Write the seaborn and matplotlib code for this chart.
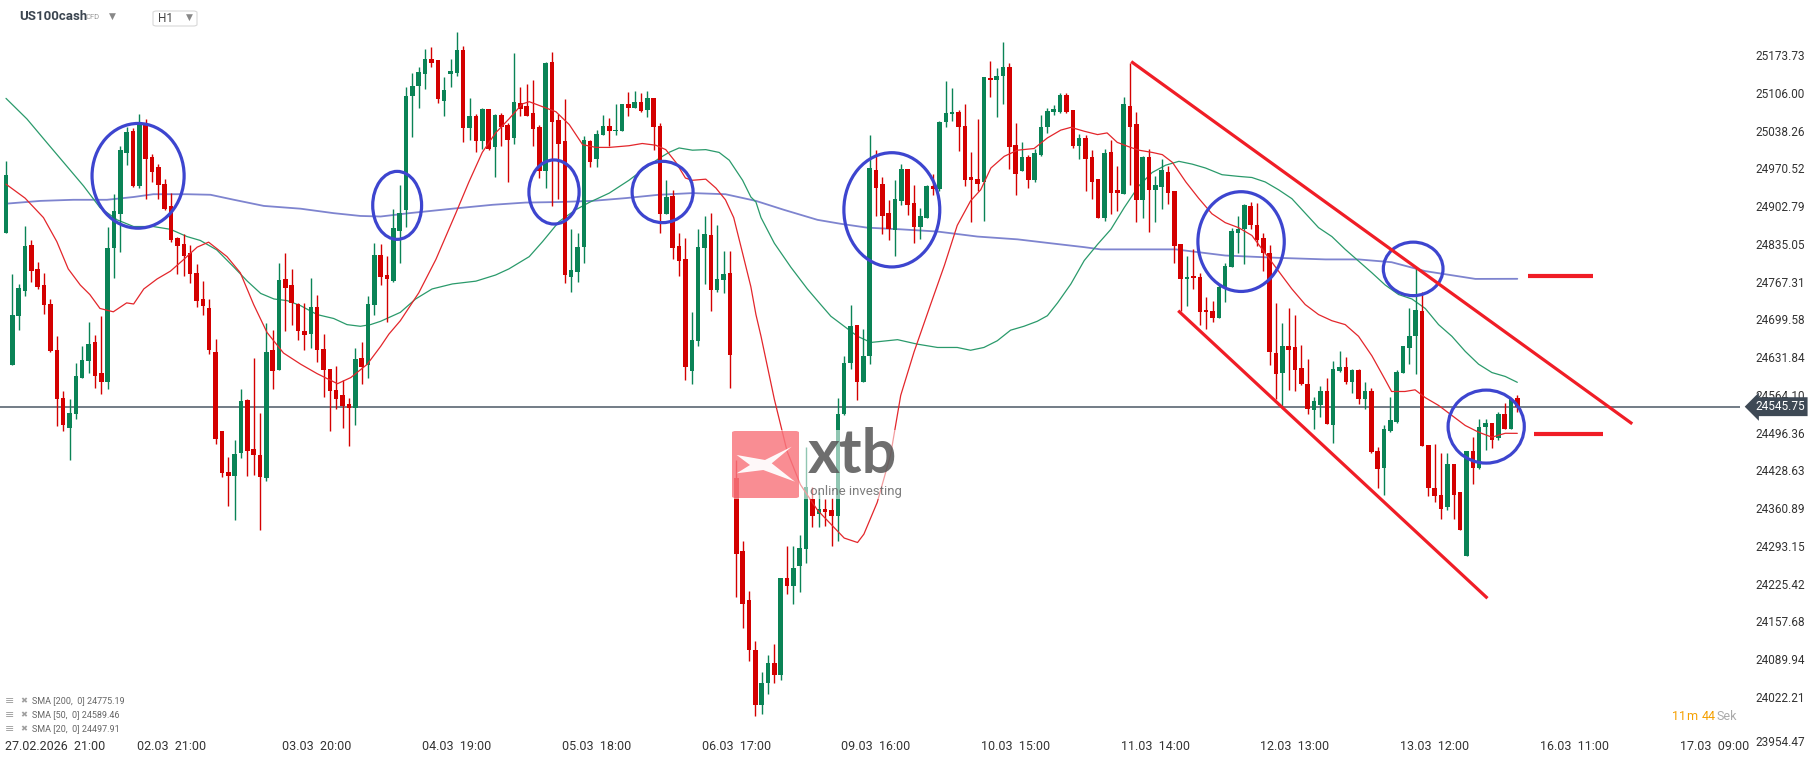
import numpy as np
import pandas as pd
import matplotlib
matplotlib.use('Agg')
import matplotlib.pyplot as plt
import matplotlib.transforms as mtrans
from matplotlib.patches import Ellipse, FancyBboxPatch, Polygon, Rectangle
import seaborn as sns

# ---- hourly candles US100cash ----
opens = [24857, 24621, 24709, 24754, 24835, 24793, 24764, 24730, 24647, 24561,
         24508, 24532, 24598, 24627, 24662, 24606, 24590, 24830, 24892, 25001,
         25040, 24942, 25054, 24994, 24976, 24945, 24906, 24848, 24837, 24822,
         24786, 24739, 24722, 24644, 24502, 24429, 24422, 24463, 24557, 24470,
         24459, 24417, 24647, 24612, 24775, 24764, 24730, 24682, 24676, 24725,
         24649, 24613, 24575, 24566, 24551, 24543, 24633, 24621, 24729, 24818,
         24782, 24771, 24861, 24899, 25103, 25121, 25142, 25170, 25167, 25095,
         25142, 25144, 25186, 25045, 25067, 25023, 25080, 25011, 25069, 25051,
         25027, 25091, 25085, 25072, 25048, 24968, 25165, 25060, 25022, 24778,
         24788, 24832, 25022, 24991, 25034, 25050, 25040, 25041, 25089, 25081,
         25092, 25078, 25100, 25050, 24892, 24923, 24834, 24811, 24610, 24663,
         24830, 24853, 24756, 24773, 24786, 24418, 24287, 24198, 24110, 24010,
         24050, 24085, 24065, 24239, 24224, 24259, 24291, 24380, 24354, 24363,
         24361, 24349, 24532, 24624, 24693, 24590, 24637, 24971, 24945, 24893,
         24862, 24915, 24972, 24911, 24869, 24885, 24942, 24936, 25057, 25071,
         25075, 25050, 24957, 24954, 24949, 25136, 25132, 25139, 25155, 25015,
         24969, 24994, 24952, 24998, 25047, 25075, 25075, 25105, 25078, 25013,
         25027, 24994, 24954, 24885, 25003, 24935, 24927, 25086, 25053, 24917,
         24993, 24935, 24940, 24967, 24932, 24838, 24774, 24780, 24778, 24719,
         24717, 24704, 24760, 24796, 24858, 24865, 24906, 24871, 24848, 24822,
         24642, 24607, 24655, 24652, 24615, 24587, 24539, 24549, 24574, 24512,
         24610, 24617, 24590, 24612, 24560, 24573, 24466, 24435, 24502, 24519,
         24606, 24651, 24672, 24717, 24477, 24400, 24388, 24366, 24442, 24393,
         24277, 24466, 24436, 24510, 24516, 24489, 24533, 24505, 24561]
highs = [24986, 24784, 24766, 24870, 24845, 24805, 24786, 24739, 24672, 24573,
         24560, 24625, 24655, 24698, 24674, 24709, 24868, 24927, 25014, 25048,
         25045, 25071, 25062, 25000, 24981, 24954, 24930, 24851, 24855, 24835,
         24801, 24771, 24739, 24668, 24502, 24455, 24486, 24577, 24560, 24633,
         24535, 24696, 24683, 24803, 24821, 24793, 24732, 24732, 24777, 24747,
         24676, 24613, 24618, 24593, 24562, 24651, 24661, 24744, 24839, 24838,
         24817, 24901, 24943, 25119, 25144, 25155, 25188, 25191, 25167, 25137,
         25170, 25218, 25193, 25100, 25071, 25082, 25080, 25071, 25072, 25054,
         25181, 25119, 25125, 25132, 25051, 25164, 25183, 25071, 25098, 24864,
         24857, 25032, 25025, 25042, 25069, 25064, 25089, 25089, 25111, 25113,
         25109, 25112, 25100, 25055, 24952, 24935, 24857, 24849, 24715, 24864,
         24888, 24893, 24872, 24825, 24825, 24450, 24305, 24215, 24125, 24070,
         24100, 24120, 24239, 24296, 24296, 24316, 24473, 24402, 24392, 24380,
         24381, 24562, 24637, 24729, 24693, 24686, 25033, 25006, 24957, 24916,
         24952, 24981, 24972, 24944, 24903, 24943, 24964, 25059, 25130, 25118,
         25078, 25089, 25003, 25062, 25137, 25166, 25153, 25200, 25162, 25054,
         25020, 24997, 25008, 25069, 25082, 25087, 25108, 25108, 25078, 25035,
         25034, 25006, 24954, 25008, 25024, 24977, 25101, 25163, 25074, 24995,
         25008, 24959, 24990, 24977, 24933, 24838, 24817, 24828, 24786, 24743,
         24736, 24766, 24803, 24867, 24888, 24909, 24913, 24912, 24857, 24835,
         24732, 24696, 24722, 24711, 24656, 24631, 24564, 24583, 24598, 24628,
         24645, 24635, 24614, 24614, 24590, 24580, 24473, 24512, 24564, 24612,
         24655, 24722, 24796, 24752, 24477, 24478, 24463, 24462, 24442, 24393,
         24466, 24492, 24523, 24523, 24516, 24537, 24553, 24562, 24566]
lows = [24857, 24621, 24684, 24745, 24769, 24757, 24712, 24644, 24511, 24502,
        24450, 24524, 24598, 24607, 24580, 24568, 24578, 24776, 24824, 24980,
        24940, 24939, 24919, 24949, 24919, 24899, 24842, 24784, 24780, 24767,
        24725, 24711, 24641, 24479, 24419, 24367, 24343, 24454, 24422, 24424,
        24324, 24412, 24578, 24612, 24682, 24693, 24666, 24647, 24651, 24626,
        24564, 24502, 24541, 24507, 24475, 24512, 24587, 24598, 24711, 24764,
        24697, 24770, 24803, 24869, 25029, 25082, 25116, 25156, 25090, 25068,
        25119, 25140, 25021, 25025, 25003, 25009, 25006, 24957, 25014, 24949,
        25018, 25067, 25067, 25014, 24956, 24939, 24906, 24919, 24767, 24752,
        24770, 24804, 24976, 24975, 25034, 25013, 25034, 25041, 25068, 25081,
        25075, 25065, 25007, 24857, 24892, 24810, 24780, 24593, 24587, 24654,
        24766, 24718, 24752, 24749, 24580, 24204, 24149, 24090, 23990, 23995,
        24030, 24050, 24055, 24209, 24191, 24214, 24266, 24329, 24330, 24331,
        24295, 24305, 24530, 24614, 24557, 24590, 24622, 24888, 24855, 24844,
        24817, 24908, 24889, 24839, 24846, 24885, 24925, 24933, 25047, 25059,
        25004, 24942, 24878, 24932, 24879, 25101, 25065, 25088, 24972, 24925,
        24969, 24938, 24949, 24996, 25037, 25069, 25072, 25072, 25010, 24991,
        24933, 24919, 24885, 24879, 24892, 24896, 24927, 24943, 24878, 24885,
        24860, 24878, 24901, 24910, 24804, 24717, 24727, 24757, 24692, 24686,
        24698, 24704, 24734, 24796, 24821, 24801, 24864, 24834, 24790, 24620,
        24560, 24547, 24576, 24573, 24585, 24533, 24505, 24527, 24515, 24480,
        24608, 24587, 24570, 24551, 24541, 24463, 24399, 24388, 24500, 24516,
        24606, 24622, 24605, 24475, 24385, 24375, 24344, 24360, 24344, 24324,
        24277, 24407, 24434, 24468, 24472, 24486, 24505, 24505, 24536]
closes = [24962, 24711, 24759, 24834, 24790, 24761, 24729, 24646, 24559, 24512,
          24534, 24601, 24629, 24659, 24600, 24590, 24830, 24896, 25006, 25039,
          24942, 25054, 24991, 24966, 24943, 24901, 24844, 24834, 24817, 24783,
          24736, 24726, 24647, 24488, 24427, 24422, 24461, 24556, 24467, 24459,
          24419, 24644, 24610, 24773, 24759, 24732, 24682, 24675, 24725, 24648,
          24611, 24573, 24560, 24547, 24544, 24632, 24617, 24730, 24818, 24778,
          24774, 24866, 24894, 25103, 25121, 25146, 25170, 25163, 25098, 25114,
          25148, 25186, 25045, 25067, 25023, 25080, 25009, 25069, 25047, 25025,
          25092, 25080, 25068, 25044, 24969, 25163, 25057, 25018, 24782, 24791,
          24833, 25025, 24984, 25035, 25050, 25040, 25043, 25089, 25081, 25092,
          25076, 25100, 25047, 24892, 24922, 24830, 24808, 24617, 24666, 24832,
          24855, 24756, 24775, 24784, 24639, 24282, 24192, 24110, 24010, 24050,
          24085, 24065, 24239, 24224, 24256, 24292, 24402, 24349, 24363, 24357,
          24349, 24532, 24624, 24690, 24590, 24637, 24974, 24938, 24888, 24864,
          24918, 24973, 24908, 24869, 24888, 24942, 24936, 25057, 25072, 25075,
          25048, 24953, 24952, 24945, 25137, 25132, 25140, 25156, 25011, 24964,
          24994, 24953, 25001, 25048, 25076, 25080, 25105, 25075, 25013, 25027,
          24990, 24949, 24885, 25001, 24930, 24929, 25088, 25048, 24917, 24994,
          24935, 24943, 24971, 24930, 24834, 24774, 24778, 24776, 24715, 24715,
          24704, 24761, 24798, 24861, 24865, 24908, 24871, 24844, 24821, 24644,
          24605, 24654, 24648, 24611, 24587, 24541, 24556, 24574, 24515, 24614,
          24617, 24590, 24612, 24560, 24574, 24465, 24434, 24505, 24522, 24608,
          24654, 24673, 24719, 24475, 24400, 24385, 24363, 24442, 24387, 24324,
          24466, 24436, 24509, 24517, 24486, 24533, 24505, 24560, 24545.75]

# moving averages, sampled along each line (candle index, value)
sma20_idx = [0, 3.0, 5.9, 8.0, 9.8, 11.7, 13.2, 14.8, 16.9, 19.0, 20.1, 21.7, 23.8, 25.9, 28.0,
             30.1, 31.9, 34.8, 36.9, 39.0, 41.1, 43.7, 46.4, 49.0, 52.2, 54.3, 56.9, 59.0, 60.3,
             62.1, 65.0, 67.7, 70.8, 72.9, 75.0, 77.1, 79.2, 81.3, 82.4, 84.5, 86.6, 88.7, 90.8,
             92.9, 95.0, 98.1, 100.2, 102.3, 103.9, 105.5, 107.0, 108.1, 110.2, 111.8, 113.3,
             114.6, 116.0, 117.3, 118.1, 118.9, 121.0, 123.0, 125.1, 127.8, 129.9, 132.0, 134.1,
             135.1, 137.2, 139.3, 140.9, 143.0, 145.6, 147.8, 149.8, 151.9, 153.5, 155.1, 157.2,
             159.3, 161.9, 164.0, 166.1, 167.7, 169.8, 171.9, 173.4, 175.0, 177.1, 178.4, 180.5,
             182.1, 183.7, 185.8, 187.8, 189.9, 192.0, 194.1, 196.2, 198.3, 200.4, 202.5, 204.6,
             206.7, 208.8, 210.9, 213.0, 215.1, 217.2, 218.2, 220.3, 221.9, 223.5, 225.6, 227.7,
             229.8, 231.9, 234.0, 236.1, 238.0]
sma20_val = [24945, 24920, 24885, 24842, 24793, 24764, 24747, 24722, 24716, 24732, 24730, 24757,
             24775, 24789, 24810, 24832, 24841, 24815, 24786, 24729, 24679, 24642, 24622, 24605,
             24587, 24598, 24622, 24654, 24676, 24700, 24750, 24810, 24892, 24949, 25002, 25037,
             25062, 25089, 25093, 25084, 25075, 25052, 25016, 25011, 25011, 25014, 25018, 25015,
             25007, 24984, 24956, 24952, 24954, 24938, 24917, 24885, 24821, 24761, 24711, 24672,
             24559, 24466, 24406, 24360, 24335, 24310, 24302, 24317, 24374, 24459, 24566, 24644,
             24729, 24800, 24871, 24915, 24935, 24974, 24995, 25006, 25009, 25028, 25042, 25047,
             25040, 25034, 25037, 25020, 25011, 25006, 25002, 24998, 24984, 24949, 24920, 24892,
             24876, 24867, 24853, 24821, 24789, 24757, 24729, 24711, 24700, 24693, 24672, 24637,
             24594, 24573, 24573, 24576, 24562, 24548, 24530, 24512, 24500, 24491, 24498, 24497.91]
sma50_idx = [0, 3.3, 6.4, 9.6, 12.2, 14.8, 17.5, 20.1, 23.2, 25.9, 28.5, 30.6, 33.2, 35.9, 38.0,
             40.1, 42.2, 44.3, 46.4, 49.0, 51.6, 53.7, 55.8, 57.4, 59.0, 62.1, 64.5, 67.1, 70.3,
             74.0, 77.1, 79.2, 82.4, 84.5, 87.1, 89.7, 91.8, 95.0, 98.1, 100.2, 102.8, 104.4,
             106.0, 108.1, 110.2, 112.3, 113.9, 116.0, 117.3, 118.1, 118.9, 121.0, 123.6, 126.2,
             128.3, 129.9, 132.0, 134.1, 136.2, 140.4, 143.5, 146.7, 149.8, 151.9, 154.0, 156.1,
             158.2, 160.3, 162.4, 164.0, 165.6, 167.7, 169.8, 171.9, 174.0, 176.1, 178.4, 180.5,
             182.6, 184.7, 186.8, 188.9, 191.5, 194.1, 196.2, 198.3, 200.4, 202.5, 204.6, 206.7,
             208.8, 210.9, 213.0, 215.1, 217.2, 219.3, 221.4, 223.5, 225.6, 227.7, 229.8, 231.9,
             234.0, 236.1, 238.0]
sma50_val = [25099, 25062, 25020, 24977, 24942, 24903, 24881, 24869, 24869, 24864, 24851, 24844,
             24827, 24796, 24771, 24749, 24739, 24736, 24727, 24711, 24704, 24693, 24690, 24693,
             24699, 24715, 24739, 24757, 24766, 24771, 24782, 24793, 24815, 24842, 24878, 24899,
             24912, 24929, 24952, 24970, 24991, 25002, 25010, 25006, 25007, 25002, 24988, 24952,
             24922, 24913, 24885, 24839, 24796, 24757, 24729, 24708, 24690, 24672, 24661, 24666,
             24658, 24652, 24652, 24647, 24652, 24664, 24683, 24690, 24699, 24709, 24732, 24766,
             24808, 24837, 24864, 24903, 24942, 24966, 24979, 24986, 24981, 24974, 24962, 24959,
             24957, 24949, 24935, 24919, 24893, 24867, 24851, 24828, 24807, 24786, 24764, 24747,
             24739, 24722, 24693, 24672, 24645, 24622, 24607, 24600, 24589.46]
sma200_idx = [0, 5.4, 10.6, 15.9, 20.1, 23.2, 28.5, 32.2, 35.9, 40.6, 46.4, 51.6, 55.8, 59.0,
              63.5, 70.3, 76.6, 81.8, 87.1, 92.3, 97.6, 102.8, 108.1, 113.3, 118.1, 122.5, 127.8,
              131.4, 135.6, 140.9, 146.7, 153.0, 159.3, 164.5, 169.8, 172.4, 177.1, 184.2, 192.0,
              199.9, 207.8, 213.0, 218.2, 223.5, 231.4, 238.0]
sma200_val = [24910, 24915, 24917, 24917, 24922, 24927, 24927, 24926, 24917, 24906, 24901, 24893,
              24888, 24887, 24893, 24901, 24908, 24912, 24913, 24915, 24920, 24926, 24929, 24927,
              24915, 24899, 24881, 24874, 24867, 24864, 24860, 24851, 24846, 24839, 24832, 24828,
              24828, 24828, 24817, 24813, 24810, 24810, 24805, 24789, 24775, 24775.19]

price_ticks = [25173.73, 25106.00, 25038.26, 24970.52, 24902.79, 24835.05, 24767.31, 24699.58,
               24631.84, 24564.10, 24496.36, 24428.63, 24360.89, 24293.15, 24225.42, 24157.68,
               24089.94, 24022.21, 23954.47]
time_labels = ['27.02.2026  21:00', '02.03  21:00', '03.03  20:00', '04.03  19:00', '05.03  18:00',
               '06.03  17:00', '09.03  16:00', '10.03  15:00', '11.03  14:00', '12.03  13:00',
               '13.03  12:00', '16.03  11:00', '17.03  09:00']
time_pos = [0, 26, 49, 71, 93, 115, 137, 159, 181, 203, 225, 247, 269]
legend_rows = ['SMA [200,  0] 24775.19', 'SMA [50,  0] 24589.46', 'SMA [20,  0] 24497.91']

# drawing annotations (candle index, price)
circles = [(20.8, 24960, 14.5, 188), (61.6, 24907, 7.7, 122), (86.3, 24931, 7.9, 115),
           (103.4, 24931, 9.6, 110), (139.5, 24899, 15.1, 205), (194.5, 24842, 13.6, 179),
           (221.6, 24793, 9.4, 96), (233.1, 24510, 12.0, 131)]
channel_top = ([177.2, 256.1], [25165, 24515])
channel_bottom = ([184.6, 233.3], [24718, 24202])
levels = [(239.7, 249.9, 24781), (240.6, 251.5, 24496)]

sns.set_theme(style='white')
plt.rcParams['font.family'] = ['Roboto', 'DejaVu Sans']

df = pd.DataFrame({'open': opens, 'high': highs, 'low': lows, 'close': closes})
df['i'] = np.arange(len(df))
df['up'] = df['close'] >= df['open']

W, H = 1815, 761
fig = plt.figure(figsize=(W / 100, H / 100), dpi=100)
fig.patch.set_facecolor('white')
ax = fig.add_axes([0, 26 / H, 1740 / W, 735 / H])
ax.set_xlim(-0.945, 273.07)
ax.set_ylim(23956.6, 25275.5)
ax.axis('off')

GREEN, RED = '#0a8356', '#d40000'
for up, col in [(True, GREEN), (False, RED)]:
    d = df[df['up'] == up]
    ax.vlines(d['i'], d['low'], d['high'], color=col, lw=1.0, zorder=3)
    body = (d['close'] - d['open']).abs().clip(lower=2.5)
    ax.bar(d['i'], body, bottom=d[['open', 'close']].min(axis=1), width=0.72,
           color=col, linewidth=0, zorder=4)

sns.lineplot(x=sma200_idx, y=sma200_val, ax=ax, color='#7e84cf', lw=1.3, sort=False, zorder=2)
sns.lineplot(x=sma50_idx, y=sma50_val, ax=ax, color='#2a9a6b', lw=0.9, sort=False, zorder=2)
sns.lineplot(x=sma20_idx, y=sma20_val, ax=ax, color='#e3262b', lw=0.9, sort=False, zorder=5)

last = closes[-1]
ax.axhline(last, color='#4b5966', lw=1.1, zorder=2)

for cx, cy, cw, ch in circles:
    ax.add_patch(Ellipse((cx, cy), cw, ch, fill=False, ec='#3d45cf', lw=2.3, zorder=7))
for xs, ys in [channel_top, channel_bottom]:
    ax.plot(xs, ys, color='#f01d26', lw=2.3, zorder=7, solid_capstyle='butt')
for x0, x1, yv in levels:
    ax.plot([x0, x1], [yv, yv], color='#f01d26', lw=3.0, zorder=7, solid_capstyle='butt')

# right price scale
bt = mtrans.blended_transform_factory(ax.transAxes, ax.transData)
for v in price_ticks:
    ax.text(1 + 15 / 1740, v, f'{v:.2f}', transform=bt, ha='left',
            va='top' if v == price_ticks[-1] else 'center', fontsize=8.5, color='#333333',
            clip_on=False, zorder=8)
ax.text(1 + 15 / 1740, last, f'{last:.2f}', transform=bt, ha='left', va='center', fontsize=8.5,
        color='white', clip_on=False, zorder=20,
        bbox=dict(boxstyle='larrow,pad=0.25', fc='#3e4955', ec='none'))

# time axis
tt = mtrans.blended_transform_factory(ax.transData, fig.transFigure)
for pos, lab in zip(time_pos, time_labels):
    ax.text(pos - (0.1 if pos == 0 else 0), 14 / H, lab, transform=tt, ha='left' if pos == 0 else 'center',
            va='center', fontsize=9, color='#333333', clip_on=False)


def fx(px):
    return px / W


def fy(py):
    return 1 - py / H


# header
fig.text(fx(19), fy(17), 'US100cash', fontsize=9.5, fontweight='bold', color='#3b4550', va='center')
fig.text(fx(86), fy(17), 'CFD', fontsize=5.5, color='#9a9a9a', va='center')
fig.text(fx(112), fy(16), '▼', fontsize=6.5, color='#888888', va='center', ha='center',
         family='DejaVu Sans')
fig.add_artist(FancyBboxPatch((fx(153), fy(26)), fx(44), 15 / H,
                              boxstyle='round,pad=0,rounding_size=0.002', fc='white', ec='#d8d8d8',
                              lw=0.8, transform=fig.transFigure))
fig.text(fx(158), fy(19), 'H1', fontsize=8.5, color='#444444', va='center')
fig.text(fx(189), fy(17), '▼', fontsize=6.5, color='#888888', va='center', ha='center',
         family='DejaVu Sans')

# indicator legend
for k, row in enumerate(legend_rows):
    yy = fy(701 + 14 * k)
    fig.text(fx(5), yy, '≡', fontsize=8, color='#a0a0a0', va='center', family='DejaVu Sans')
    fig.text(fx(20), yy, '✖', fontsize=6, color='#a0a0a0', va='center', family='DejaVu Sans')
    fig.text(fx(32), yy, row, fontsize=6.5, color='#666666', va='center')

# countdown
fig.text(fx(1672), fy(716), '11', fontsize=9, color='#f5a000', va='center')
fig.text(fx(1686), fy(716), 'm', fontsize=9, color='#f5a000', va='center')
fig.text(fx(1702), fy(716), '44', fontsize=9, color='#f5a000', va='center')
fig.text(fx(1717), fy(716), 'Sek', fontsize=9, color='#aaaaaa', va='center')

# xtb watermark
fig.add_artist(Rectangle((fx(731), fy(499)), fx(185), 69 / H, fc='white', alpha=0.55,
                         ec='none', transform=fig.transFigure, zorder=1))
fig.add_artist(FancyBboxPatch((fx(732), fy(498)), fx(67), 67 / H,
                              boxstyle='round,pad=0,rounding_size=0.002', fc='#f6505a',
                              alpha=0.65, ec='none', transform=fig.transFigure, zorder=2))
xmark = [(736.7, 455), (765, 460), (791.7, 446.7), (771.7, 463.3), (795, 481.7),
         (763.3, 470), (736.7, 473.3), (750, 465)]
fig.add_artist(Polygon([(fx(a), fy(b)) for a, b in xmark], closed=True, fc='white', ec='none',
                       alpha=0.95, transform=fig.transFigure, zorder=3))
fig.text(fx(808), fy(473), 'xtb', fontsize=44, fontweight='bold', color='#555555', alpha=0.85,
         va='baseline', family='Lato', zorder=3)
fig.text(fx(810), fy(492), 'online investing', fontsize=9.5, color='#666666', alpha=0.85,
         va='center', zorder=3)

fig.savefig('out.png', dpi=100, facecolor='white')
